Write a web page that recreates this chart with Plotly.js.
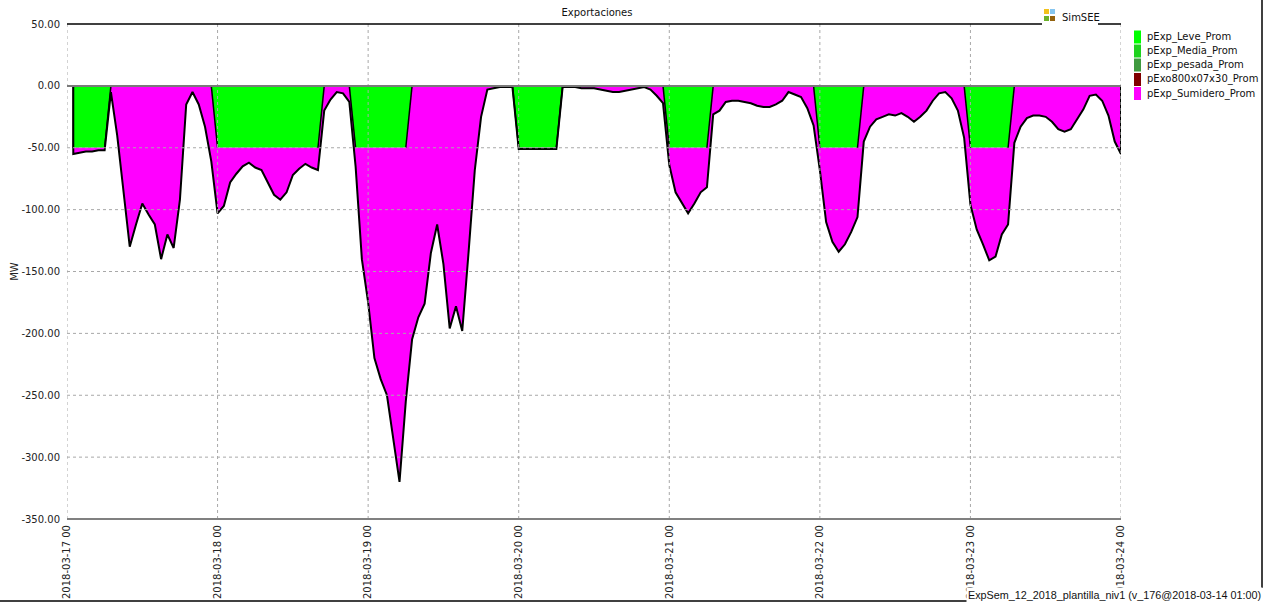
<!DOCTYPE html>
<html><head><meta charset="utf-8">
<script src="https://cdn.plot.ly/plotly-3.0.1.min.js"></script>
<style>html,body{margin:0;padding:0;background:#fff;} #chart{width:1274px;height:603px;}</style>
</head><body><div id="chart"></div>
<script>
// ---- data (MW, hourly averages, hours 01:00 of 2018-03-17 .. 00:00 of 2018-03-24) ----
const leveProm = [
  -50,-50,-50,-50,-50,-50,0,0,0,0,0,0,0,0,0,0,0,0,0,0,0,0,0,-50,
  -50,-50,-50,-50,-50,-50,-50,-50,-50,-50,-50,-50,-50,-50,-50,-50,0,0,0,0,0,-50,-50,-50,
  -50,-50,-50,-50,-50,-50,0,0,0,0,0,0,0,0,0,0,0,0,0,0,0,0,0,-50,
  -50,-50,-50,-50,-50,-50,0,0,0,0,0,0,0,0,0,0,0,0,0,0,0,0,0,-50,
  -50,-50,-50,-50,-50,-50,0,0,0,0,0,0,0,0,0,0,0,0,0,0,0,0,0,-50,
  -50,-50,-50,-50,-50,-50,0,0,0,0,0,0,0,0,0,0,0,0,0,0,0,0,0,-50,
  -50,-50,-50,-50,-50,-50,0,0,0,0,0,0,0,0,0,0,0,0,0,0,0,0,0,0
];
const sumideroProm = [
  -5,-4,-3,-3,-2,-2,-5,-40,-87,-130,-112,-95,-104,-112,-140,-120,-131,-92,-15,-5,-15,-33,-61,-53,
  -47,-28,-21,-15,-12,-16,-18,-28,-38,-42,-36,-22,-17,-13,-16,-18,-20,-11,-5,-6,-13,-15,-90,-125,
  -170,-187,-200,-235,-270,-205,-205,-187,-176,-135,-112,-144,-196,-178,-198,-135,-68,-25,-3,-2,-1,-1,-1,-1,
  -1,-1,-1,-1,-1,-1,-1,-1,-1,-2,-2,-2,-3,-4,-5,-5,-4,-3,-2,-1,-3,-8,-14,-14,
  -36,-45,-53,-45,-36,-32,-23,-20,-13,-12,-12,-13,-14,-16,-17,-17,-15,-12,-5,-7,-9,-18,-32,-18,
  -60,-76,-84,-78,-68,-56,-45,-33,-27,-25,-23,-24,-22,-25,-29,-25,-20,-12,-6,-5,-10,-20,-42,-46,
  -66,-78,-91,-88,-70,-62,-46,-33,-26,-24,-24,-25,-29,-35,-37,-35,-27,-19,-8,-7,-12,-24,-45,-55
];
const dayTicks = ['2018-03-17 00:00','2018-03-18 00:00','2018-03-19 00:00','2018-03-20 00:00',
                  '2018-03-21 00:00','2018-03-22 00:00','2018-03-23 00:00','2018-03-24 00:00'];
const dayLabels = ['2018-03-17 00','2018-03-18 00','2018-03-19 00','2018-03-20 00',
                   '2018-03-21 00','2018-03-22 00','2018-03-23 00','2018-03-24 00'];
const yTicks = [50,0,-50,-100,-150,-200,-250,-300,-350];
const yLabels = ['50.00','0.00','-50.00','-100.00','-150.00','-200.00','-250.00','-300.00','-350.00'];
const legendNames = ['pExp_Leve_Prom','pExp_Media_Prom','pExp_pesada_Prom','pExo800x07x30_Prom','pExp_Sumidero_Prom'];
const legendColors = ['#00ff00','#1ed21e','#3f9a3f','#800000','#ff00ff'];

// ---- time stamps ----
const t0 = Date.UTC(2018,2,17,0);
function stamp(h){ return new Date(t0 + h*3600000).toISOString().slice(0,16).replace('T',' '); }
const times = leveProm.map((_,i)=>stamp(i+1));
const total = leveProm.map((v,i)=>v + sumideroProm[i]);

// outline of the green block edges
const edgeX = [], edgeY = [];
edgeX.push(times[0], times[0]); edgeY.push(0, leveProm[0]); edgeX.push(null); edgeY.push(null);
for (let i=1;i<leveProm.length;i++){
  if (leveProm[i] !== leveProm[i-1]) {
    edgeX.push(times[i-1], times[i], null); edgeY.push(leveProm[i-1], leveProm[i], null);
  }
}

const FONT = 'DejaVu Sans, Verdana, sans-serif';
const traces = [
  {x: times, y: leveProm, type:'scatter', mode:'lines', stackgroup:'exp', fillcolor:'#00ff00',
   line:{width:0, color:'#00ff00'}, name: legendNames[0], showlegend:false, hoverinfo:'skip'},
  {x: times, y: sumideroProm, type:'scatter', mode:'lines', stackgroup:'exp', fillcolor:'#ff00ff',
   line:{width:0, color:'#ff00ff'}, name: legendNames[4], showlegend:false, hoverinfo:'skip'},
  {x: edgeX, y: edgeY, type:'scatter', mode:'lines', line:{color:'#000', width:1.5},
   showlegend:false, hoverinfo:'skip', connectgaps:false},
  {x: [times[0]].concat(times, [times[times.length-1]]), y: [0].concat(total,[0]),
   type:'scatter', mode:'lines', line:{color:'#000', width:2}, showlegend:false, hoverinfo:'skip'}
];

// ---- layout geometry helpers (pixel -> paper) ----
const L=67, R=153, T=24, B=84, W=1274-L-R, H=603-T-B;
const px = x => (x-L)/W;
const py = y => (603-B-y)/H;

const shapes = [];
// dashed grid above traces
yTicks.slice(1,-1).forEach(v=>{
  if (v===0) return;
  shapes.push({type:'line', layer:'above', xref:'paper', yref:'y', x0:0, x1:1, y0:v, y1:v,
    line:{color:'#a8a8a8', width:1, dash:'3px,3px'}});
});
dayTicks.forEach(d=>{
  shapes.push({type:'line', layer:'above', xref:'x', yref:'paper', x0:d, x1:d, y0:0, y1:1,
    line:{color:'#a8a8a8', width:1, dash:'3px,3px'}});
});
// zero line
shapes.push({type:'line', layer:'above', xref:'paper', yref:'y', x0:0, x1:1, y0:0, y1:0,
  line:{color:'#7a7a7a', width:2}});
// bottom axis line
shapes.push({type:'line', layer:'above', xref:'paper', yref:'paper', x0:0, x1:1, y0:0, y1:0,
  line:{color:'#808080', width:2}});
// top border with gap for logo
shapes.push({type:'line', layer:'above', xref:'paper', yref:'paper', x0:0, x1:px(1042), y0:1, y1:1,
  line:{color:'#000', width:1.5}});
shapes.push({type:'line', layer:'above', xref:'paper', yref:'paper', x0:px(1098), x1:1, y0:1, y1:1,
  line:{color:'#000', width:1.5}});
// outer frame
shapes.push({type:'line', xref:'paper', yref:'paper', x0:px(1262), x1:px(1262), y0:py(0), y1:py(588),
  line:{color:'#000', width:1.5}});
shapes.push({type:'line', xref:'paper', yref:'paper', x0:px(0), x1:px(968), y0:py(601), y1:py(601),
  line:{color:'#000', width:1.5}});
// logo squares
[['#f2c21c',1044,9],['#86c6f0',1050,9],['#6cb22a',1044,16],['#94620e',1050,16]].forEach(s=>{
  shapes.push({type:'rect', xref:'paper', yref:'paper', x0:px(s[1]), x1:px(s[1]+5), y0:py(s[2]), y1:py(s[2]+5),
    fillcolor:s[0], line:{width:0}});
});
// legend swatches
const rowY = [37,51,65,79.5,93.5];
legendNames.forEach((n,i)=>{
  shapes.push({type:'rect', xref:'paper', yref:'paper', x0:px(1134), x1:px(1141), y0:py(rowY[i]-6.5), y1:py(rowY[i]+6.5),
    fillcolor:legendColors[i], line:{width:0}});
});

const annotations = legendNames.map((n,i)=>({
  text:n, xref:'paper', yref:'paper', x:px(1145), y:py(rowY[i]), xanchor:'left', yanchor:'middle',
  showarrow:false, font:{family:FONT, size:10, color:'#111'}
}));
annotations.push({text:'SimSEE', xref:'paper', yref:'paper', x:px(1060), y:py(18), xanchor:'left', yanchor:'middle',
  showarrow:false, font:{family:FONT, size:10, color:'#111'}});
annotations.push({text:'ExpSem_12_2018_plantilla_niv1 (v_176@2018-03-14 01:00)', xref:'paper', yref:'paper',
  x:px(1263), y:py(595), xanchor:'right', yanchor:'middle', showarrow:false, bgcolor:'#fff',
  font:{family:'Liberation Sans, Arial, sans-serif', size:10.8, color:'#111'}});

const layout = {
  width:1274, height:603, margin:{l:L, r:R, t:T, b:B}, paper_bgcolor:'#fff', plot_bgcolor:'#fff',
  showlegend:false,
  title:{text:'Exportaciones', x:px(597), xref:'paper', xanchor:'center', y:1-12/603, yref:'container', yanchor:'middle',
    font:{family:FONT, size:10, color:'#111'}},
  xaxis:{type:'date', range:[dayTicks[0], dayTicks[7]], tickmode:'array', tickvals:dayTicks, ticktext:dayLabels,
    tickangle:-90, showgrid:false, zeroline:false, showline:false, ticks:'', ticklabelstandoff:3,
    tickfont:{family:FONT, size:10, color:'#222'}},
  yaxis:{range:[-350,50], tickmode:'array', tickvals:yTicks, ticktext:yLabels, showgrid:false, zeroline:false,
    showline:false, ticks:'', ticklabelstandoff:6, tickfont:{family:FONT, size:10, color:'#222'},
    title:{text:'MW', standoff:0, font:{family:FONT, size:10, color:'#222'}}},
  shapes:shapes, annotations:annotations
};
Plotly.newPlot('chart', traces, layout, {staticPlot:true, displayModeBar:false});
</script></body></html>
